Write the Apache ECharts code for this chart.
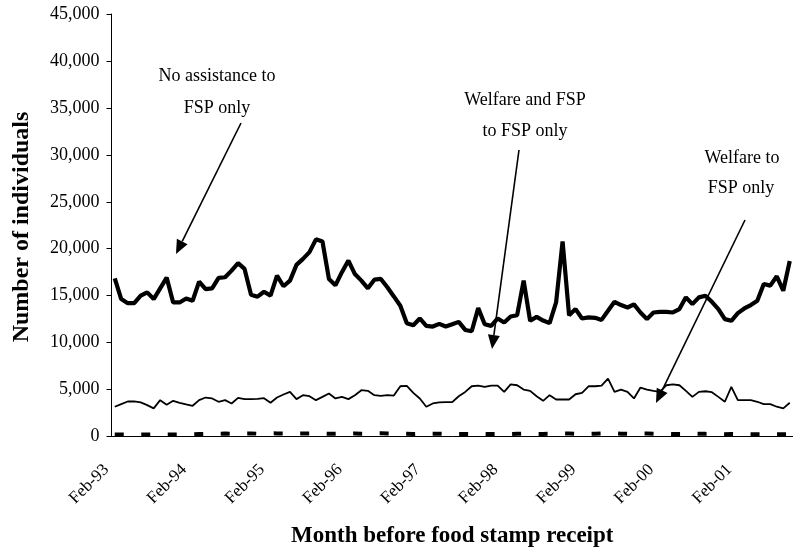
<!DOCTYPE html>
<html>
<head>
<meta charset="utf-8">
<script src="https://cdn.jsdelivr.net/npm/echarts@6/dist/echarts.min.js"></script>
<style>
  html, body { margin: 0; background: #fff; }
  #chart { width: 793px; height: 554px; }
</style>
</head>
<body>
<div id="chart"></div>
<script>
// month labels, Feb-93 onward (one per month)
var monthNames = ['Jan', 'Feb', 'Mar', 'Apr', 'May', 'Jun', 'Jul', 'Aug', 'Sep', 'Oct', 'Nov', 'Dec'];
var firstYear = 93, firstMonth = 1, monthCount = 105;
var months = [];
for (var i = 0; i < monthCount; i++) {
    var m = firstMonth + i;
    var yy = (firstYear + Math.floor(m / 12)) % 100;
    months.push(monthNames[m % 12] + '-' + (yy < 10 ? '0' + yy : yy));
}

var yTicks = [0, 5000, 10000, 15000, 20000, 25000, 30000, 35000, 40000, 45000];

// No assistance to FSP only (thick line)
var noAssistance = [
    16850, 14640, 14200, 14200, 15000, 15350, 14640, 15780, 16920, 14280,
    14280, 14700, 14460, 16500, 15700, 15780, 16900, 16960, 17670, 18460,
    17850, 15100, 14890, 15420, 15000, 17140, 16000, 16600, 18280, 18920,
    19640, 21000, 20780, 16780, 16100, 17500, 18740, 17300, 16600, 15780,
    16700, 16780, 15890, 14920, 13920, 12070, 11850, 12570, 11780, 11710,
    12000, 11710, 11960, 12210, 11350, 11210, 13670, 11960, 11780, 12570,
    12140, 12780, 12920, 16600, 12320, 12740, 12350, 12070, 14280, 20780,
    12920, 13570, 12570, 12680, 12640, 12420, 13390, 14350, 14000, 13740,
    14070, 13210, 12500, 13210, 13280, 13280, 13210, 13570, 14820, 14100,
    14820, 15000, 14350, 13570, 12500, 12320, 13140, 13640, 14000, 14460,
    16250, 16070, 17060, 15530, 18700
];

// Welfare and FSP to FSP only (thin line)
var welfareAndFsp = [
    3170, 3450, 3730, 3730, 3630, 3340, 3000, 3870, 3380, 3800,
    3590, 3410, 3270, 3870, 4150, 4050, 3700, 3870, 3520, 4120,
    3980, 3980, 4010, 4080, 3590, 4150, 4470, 4750, 3980, 4400,
    4290, 3870, 4220, 4580, 4050, 4220, 3980, 4400, 4930, 4860,
    4400, 4330, 4400, 4360, 5350, 5390, 4650, 4050, 3170, 3520,
    3630, 3660, 3660, 4290, 4750, 5350, 5420, 5280, 5420, 5420,
    4750, 5560, 5460, 5000, 4860, 4290, 3800, 4400, 3940, 3940,
    3940, 4500, 4650, 5350, 5350, 5420, 6160, 4750, 5000, 4750,
    4050, 5210, 5000, 4860, 4750, 5460, 5560, 5460, 4860, 4220,
    4750, 4820, 4720, 4220, 3700, 5280, 3870, 3870, 3870, 3700,
    3450, 3450, 3170, 3000, 3590
];

// Welfare to FSP only (dashed line)
var welfareOnly = [
    220, 220, 210, 210, 220, 220, 210, 200, 210, 220,
    220, 210, 230, 260, 280, 270, 300, 310, 290, 300,
    320, 330, 300, 310, 340, 330, 320, 300, 310, 320,
    330, 300, 290, 280, 300, 310, 280, 320, 300, 310,
    330, 350, 320, 300, 290, 280, 270, 300, 280, 290,
    300, 290, 280, 260, 270, 260, 250, 270, 260, 280,
    260, 250, 280, 300, 290, 280, 270, 290, 300, 330,
    320, 300, 290, 280, 300, 320, 330, 340, 300, 290,
    280, 300, 310, 300, 280, 290, 270, 260, 270, 300,
    290, 280, 270, 260, 250, 260, 250, 240, 250, 240,
    230, 240, 230, 240, 250
];

var serif = 'Liberation Serif, Times New Roman, serif';

function arrow(x1, y1, x2, y2) {
    var a = Math.atan2(y2 - y1, x2 - x1), len = 14, half = 6;
    var bx = x2 - len * Math.cos(a), by = y2 - len * Math.sin(a);
    return [
        { type: 'line', shape: { x1: x1, y1: y1, x2: bx, y2: by }, style: { stroke: '#000', lineWidth: 1.6 } },
        { type: 'polygon', shape: { points: [[x2, y2], [bx + half * Math.sin(a), by - half * Math.cos(a)], [bx - half * Math.sin(a), by + half * Math.cos(a)]] }, style: { fill: '#000' } }
    ];
}

function note(x, y, text) {
    return { type: 'text', x: x, y: y, style: { text: text, fill: '#000', font: '18px ' + serif, align: 'center', verticalAlign: 'middle' } };
}

var chart = echarts.init(document.getElementById('chart'));
chart.setOption({
    animation: false,
    backgroundColor: '#fff',
    grid: { left: 111.5, top: 14, width: 684, height: 422.5 },
    xAxis: {
        type: 'category',
        data: months,
        boundaryGap: true,
        axisLine: { lineStyle: { color: '#000', width: 1 } },
        axisTick: { interval: 11, length: 5, lineStyle: { color: '#000' } },
        axisLabel: { interval: 11, rotate: 45, margin: 22, padding: [0, 12, 0, 0], color: '#000', fontFamily: serif, fontSize: 17 },
        name: 'Month before food stamp receipt',
        nameLocation: 'middle',
        nameGap: 88,
        nameTextStyle: { color: '#000', fontFamily: serif, fontSize: 23, fontWeight: 'bold' }
    },
    yAxis: {
        type: 'value',
        min: yTicks[0],
        max: yTicks[yTicks.length - 1],
        interval: yTicks[1] - yTicks[0],
        splitLine: { show: false },
        axisLine: { show: true, lineStyle: { color: '#000', width: 1 } },
        axisTick: { show: true, length: 5, lineStyle: { color: '#000' } },
        axisLabel: {
            margin: 12, color: '#000', fontFamily: serif, fontSize: 18,
            formatter: function (v) { return v.toLocaleString('en-US'); }
        }
    },
    series: [{
        name: 'Welfare to FSP only',
        type: 'line',
        data: welfareOnly,
        symbol: 'none',
        lineStyle: { color: '#000', width: 4, type: [9, 17.5], cap: 'butt' }
    }, {
        name: 'Welfare and FSP to FSP only',
        type: 'line',
        data: welfareAndFsp,
        symbol: 'none',
        lineStyle: { color: '#000', width: 1.8 }
    }, {
        name: 'No assistance to FSP only',
        type: 'line',
        data: noAssistance,
        symbol: 'none',
        lineStyle: { color: '#000', width: 4.2 }
    }],
    graphic: [
        { type: 'text', x: 22, y: 227, rotation: Math.PI / 2,
          style: { text: 'Number of individuals', fill: '#000', font: 'bold 24px ' + serif, align: 'center', verticalAlign: 'middle' } },
        note(217, 76, 'No assistance to'),
        note(217, 108, 'FSP only'),
        note(525, 100, 'Welfare and FSP'),
        note(525, 131, 'to FSP only'),
        note(742, 158, 'Welfare to'),
        note(741, 188, 'FSP only')
    ].concat(arrow(241, 123, 176, 254), arrow(519, 150, 492, 349), arrow(745, 220, 656, 403))
});
</script>
</body>
</html>
